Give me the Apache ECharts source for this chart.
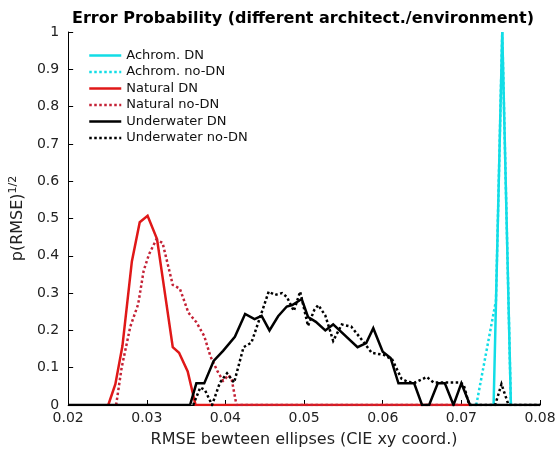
<!DOCTYPE html>
<html>
<head>
<meta charset="utf-8">
<script src="https://cdn.jsdelivr.net/npm/echarts@6/dist/echarts.min.js"></script>
<style>
  html, body { margin: 0; padding: 0; background: #fff; }
  #chart { width: 560px; height: 455px; }
</style>
</head>
<body>
<div id="chart"></div>
<script>
// RMSE bin positions and sqrt-probabilities for each architecture / environment
const achromDnX   = [0.0741, 0.0752, 0.0763];
const achromDnY   = [0, 1.0, 0];
const achromNoDnX = [0.0719, 0.0744, 0.0752, 0.0763];
const achromNoDnY = [0, 0.28, 1.0, 0];

const naturalDnX = [0.0251, 0.0260, 0.0269, 0.0281, 0.0291, 0.0301, 0.0313, 0.0333, 0.0341, 0.0352, 0.0362, 0.0711];
const naturalDnY = [0, 0.056, 0.158, 0.385, 0.490, 0.507, 0.445, 0.155, 0.140, 0.090, 0, 0];
const naturalNoDnX = [0.0261, 0.0268, 0.0279, 0.0289, 0.0296, 0.0303, 0.0312, 0.0320, 0.0333, 0.0342, 0.0353, 0.0363, 0.0373, 0.0381, 0.0390, 0.0397, 0.0404, 0.0408, 0.0414, 0.0700];
const naturalNoDnY = [0, 0.100, 0.210, 0.270, 0.360, 0.405, 0.443, 0.435, 0.322, 0.312, 0.247, 0.222, 0.185, 0.130, 0.090, 0.065, 0.080, 0.068, 0, 0];

const underwaterDnX = [0.0200, 0.0355, 0.0363, 0.0373, 0.0385, 0.0397, 0.0412, 0.0425, 0.0437, 0.0446, 0.0456, 0.0467, 0.0478, 0.0485, 0.0497, 0.0505, 0.0515, 0.0527, 0.0537, 0.0568, 0.0579, 0.0588, 0.0600, 0.0610, 0.0620, 0.0640, 0.0650, 0.0659, 0.0670, 0.0679, 0.0690, 0.0700, 0.0711, 0.0800];
const underwaterDnY = [0, 0, 0.058, 0.058, 0.118, 0.145, 0.183, 0.244, 0.230, 0.239, 0.200, 0.238, 0.264, 0.268, 0.284, 0.236, 0.223, 0.200, 0.216, 0.155, 0.166, 0.206, 0.143, 0.126, 0.058, 0.058, 0, 0, 0.058, 0.058, 0, 0.058, 0, 0];
const underwaterNoDnX = [0.0359, 0.0368, 0.0374, 0.0383, 0.0393, 0.0402, 0.0411, 0.0423, 0.0433, 0.0444, 0.0455, 0.0463, 0.0472, 0.0478, 0.0487, 0.0495, 0.0505, 0.0513, 0.0518, 0.0527, 0.0537, 0.0548, 0.0560, 0.0576, 0.0586, 0.0602, 0.0612, 0.0624, 0.0632, 0.0641, 0.0656, 0.0665, 0.0699, 0.0703, 0.0710, 0.0743, 0.0751, 0.0760, 0.0800];
const underwaterNoDnY = [0, 0.047, 0.040, 0, 0.060, 0.085, 0.060, 0.155, 0.167, 0.235, 0.304, 0.295, 0.300, 0.290, 0.252, 0.304, 0.212, 0.255, 0.268, 0.240, 0.172, 0.216, 0.210, 0.168, 0.140, 0.134, 0.122, 0.070, 0.062, 0.060, 0.075, 0.060, 0.060, 0.054, 0, 0, 0.056, 0, 0];

const seriesNames = ['Achrom. DN', 'Achrom. no-DN', 'Natural DN', 'Natural no-DN', 'Underwater DN', 'Underwater no-DN'];
const xTicks = { min: 0.02, max: 0.08, step: 0.01 };
const yTicks = { min: 0, max: 1, step: 0.1 };

const zip = (xs, ys) => xs.map((x, i) => [x, ys[i]]);

const FONT = 'DejaVu Sans';
const CYAN = '#12dde6';
const RED = '#e01818';
const RED_DOT = '#c42236';
const BLACK = '#000000';
const DOTS = [2.5, 2.5];

function curve(name, data, color, dotted, z) {
  return {
    name: name,
    type: 'line',
    data: data,
    symbol: 'none',
    showSymbol: false,
    smooth: false,
    animation: false,
    z: z,
    lineStyle: { color: color, width: 2.5, type: dotted ? DOTS : 'solid', cap: 'butt', join: 'miter' },
    itemStyle: { color: color }
  };
}

const chart = echarts.init(document.getElementById('chart'), null, { renderer: 'canvas' });
chart.setOption({
  backgroundColor: '#ffffff',
  animation: false,
  title: {
    text: 'Error Probability (different architect./environment)',
    left: 298,
    textAlign: 'center',
    top: 6,
    textStyle: { fontFamily: FONT, fontSize: 16, fontWeight: 'bold', color: '#000' }
  },
  legend: {
    orient: 'vertical',
    left: 88,
    top: 49,
    padding: 0,
    itemWidth: 32,
    itemHeight: 14,
    itemGap: 3.5,
    itemStyle: { opacity: 0 },
    lineStyle: { width: 2.5 },
    textStyle: { fontFamily: FONT, fontSize: 13, color: '#111' },
    data: seriesNames
  },
  grid: { left: 68, right: 20, top: 32, bottom: 50, containLabel: false },
  xAxis: {
    type: 'value',
    min: xTicks.min,
    max: xTicks.max,
    interval: xTicks.step,
    name: 'RMSE bewteen ellipses (CIE xy coord.)',
    nameLocation: 'middle',
    nameGap: 27,
    nameTextStyle: { fontFamily: FONT, fontSize: 16, color: '#222' },
    axisLine: { show: true, onZero: false, lineStyle: { color: '#000', width: 1 } },
    axisTick: { show: true, inside: true, length: 5, lineStyle: { color: '#000' } },
    axisLabel: {
      fontFamily: FONT, fontSize: 14, color: '#222', margin: 6,
      formatter: v => v.toFixed(2)
    },
    splitLine: { show: false }
  },
  yAxis: {
    type: 'value',
    min: yTicks.min,
    max: yTicks.max,
    interval: yTicks.step,
    name: 'p(RMSE){sup|1/2}',
    nameLocation: 'middle',
    nameGap: 25,
    nameRotate: 90,
    nameTextStyle: {
      fontFamily: FONT, fontSize: 16, color: '#222',
      rich: { sup: { fontFamily: FONT, fontSize: 11, color: '#222', verticalAlign: 'top', padding: [0, 0, 9, 0] } }
    },
    axisLine: { show: true, lineStyle: { color: '#000', width: 1 } },
    axisTick: { show: true, inside: true, length: 5, lineStyle: { color: '#000' } },
    axisLabel: {
      fontFamily: FONT, fontSize: 14, color: '#222', margin: 9,
      formatter: v => (Math.round(v * 10) / 10).toString()
    },
    splitLine: { show: false }
  },
  series: [
    curve(seriesNames[0], zip(achromDnX, achromDnY), CYAN, false, 3),
    curve(seriesNames[1], zip(achromNoDnX, achromNoDnY), CYAN, true, 2),
    curve(seriesNames[2], zip(naturalDnX, naturalDnY), RED, false, 2),
    curve(seriesNames[3], zip(naturalNoDnX, naturalNoDnY), RED_DOT, true, 2),
    curve(seriesNames[4], zip(underwaterDnX, underwaterDnY), BLACK, false, 4),
    curve(seriesNames[5], zip(underwaterNoDnX, underwaterNoDnY), BLACK, true, 4)
  ]
});
</script>
</body>
</html>
